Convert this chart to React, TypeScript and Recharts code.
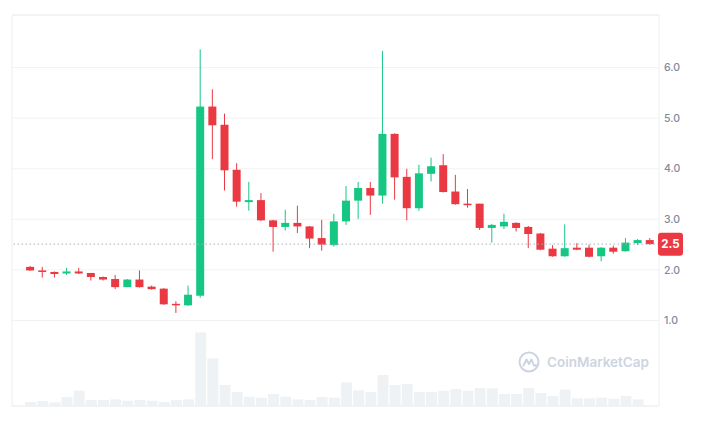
import {
  Bar,
  CartesianGrid,
  ComposedChart,
  ReferenceArea,
  ReferenceLine,
  XAxis,
  YAxis,
} from "recharts";

// weekly candles, first week starting Monday 2024-05-13
const firstWeek = "2024-05-13";

const opens = [
  2.06, 1.99, 1.96, 1.93, 1.97, 1.94, 1.86, 1.82, 1.66, 1.81, 1.67, 1.63, 1.33,
  1.3, 1.49, 5.23, 4.87, 3.98, 3.34, 3.38, 2.98, 2.85, 2.93, 2.86, 2.63, 2.49,
  2.96, 3.37, 3.62, 3.47, 4.69, 3.84, 3.22, 3.9, 4.07, 3.55, 3.31, 3.31, 2.83,
  2.86, 2.93, 2.85, 2.72, 2.42, 2.27, 2.44, 2.44, 2.27, 2.44, 2.37, 2.53, 2.59,
];
const highs = [
  2.08, 2.06, 1.97, 2.04, 2.04, 1.94, 1.87, 1.9, 1.82, 1.99, 1.69, 1.64, 1.38,
  1.69, 6.36, 5.57, 5.09, 4.11, 3.74, 3.52, 2.99, 3.19, 3.27, 2.87, 2.99, 3.11,
  3.66, 3.74, 3.74, 6.33, 4.7, 4.0, 4.08, 4.22, 4.29, 3.88, 3.6, 3.31, 2.91,
  3.11, 2.94, 2.87, 2.73, 2.49, 2.9, 2.53, 2.5, 2.45, 2.48, 2.63, 2.61, 2.63,
];
const lows = [
  1.98, 1.85, 1.85, 1.9, 1.92, 1.79, 1.79, 1.62, 1.66, 1.65, 1.61, 1.31, 1.15,
  1.29, 1.45, 4.19, 3.57, 3.25, 3.17, 2.97, 2.36, 2.78, 2.73, 2.43, 2.38, 2.46,
  2.89, 3.01, 3.09, 3.31, 3.39, 2.98, 3.17, 3.75, 3.53, 3.29, 3.23, 2.79, 2.54,
  2.81, 2.76, 2.43, 2.39, 2.26, 2.26, 2.39, 2.25, 2.17, 2.32, 2.36, 2.49, 2.5,
];
const closes = [
  1.99, 1.96, 1.92, 1.97, 1.93, 1.86, 1.81, 1.66, 1.81, 1.66, 1.62, 1.32, 1.3,
  1.51, 5.23, 4.86, 3.97, 3.35, 3.38, 2.98, 2.85, 2.93, 2.86, 2.62, 2.5, 2.96,
  3.37, 3.62, 3.47, 4.69, 3.83, 3.22, 3.91, 4.05, 3.54, 3.3, 3.29, 2.83, 2.89,
  2.95, 2.83, 2.71, 2.4, 2.27, 2.43, 2.4, 2.26, 2.44, 2.36, 2.54, 2.59, 2.51,
];
// weekly volume, relative units
const volumes = [
  4, 5, 3.7, 9, 15.3, 6, 6, 6.7, 5.3, 6, 5.3, 4, 6, 6.7, 73.7, 47.7, 21, 14,
  9.3, 8.3, 12, 9.3, 6.7, 6, 9, 8.3, 23.7, 15.7, 14, 31, 21, 22, 14, 14, 15.3,
  17, 15.3, 18, 17.7, 12, 12, 18, 13, 10, 16.3, 7.7, 7.7, 8.3, 7.3, 10, 6.7, 0,
];

const monthStarts = ["2024-07-01", "2024-09-01", "2024-11-01", "2025-01-01", "2025-03-01", "2025-05-01"];
const monthLabels = ["Jul '24", "Sep '24", "Nov '24", "Jan '25", "Mar '25", "May '25"];
const priceTicks = [1, 2, 3, 4, 5, 6];

const GREEN = "#16c784";
const RED = "#ea3943";
const GRID = "#f1f2f4";
const LABEL = "#808a9d";

const WEEK = 7 * 86400000;
const t0 = Date.parse(firstWeek);

const data = opens.map((open, i) => ({
  i,
  date: new Date(t0 + i * WEEK).toISOString().slice(0, 10),
  open,
  high: highs[i],
  low: lows[i],
  close: closes[i],
  volume: volumes[i],
}));

const monthTicks = monthStarts.map((s) => (Date.parse(s) - t0) / WEEK);
const lastClose = closes[closes.length - 1];

const xDomain = [-1.5, 51.75];
const priceDomain = [-0.69, 7.04];
const bandPadding = { left: 12.1, right: 3.1 };

const Candle = (props: any) => {
  const { x, y, width, height, payload } = props;
  if (x == null || y == null) return null;
  const { open, close, high, low } = payload;
  const color = close >= open ? GREEN : RED;
  const k = high - low > 0 ? height / (high - low) : 0;
  const top = y + (high - Math.max(open, close)) * k;
  const h = Math.max(Math.abs(close - open) * k, 1.5);
  const cx = x + width / 2;
  return (
    <g>
      <line x1={cx} x2={cx} y1={y} y2={y + height} stroke={color} strokeWidth={1} />
      <rect x={x} y={top} width={width} height={h} fill={color} />
    </g>
  );
};

const PriceTag = (props: any) => {
  const { viewBox } = props;
  if (!viewBox) return null;
  const x = viewBox.x + viewBox.width;
  const y = viewBox.y;
  return (
    <g>
      <rect x={x - 1} y={y - 11.5} width={25} height={23} rx={3} fill={RED} />
      <text x={x + 11.5} y={y} dy="0.36em" textAnchor="middle" fill="#fff" fontSize={11.5} fontWeight={700}>
        {lastClose.toFixed(1)}
      </text>
    </g>
  );
};

export default function App() {
  return (
    <div
      style={{
        position: "absolute",
        left: 0,
        top: 0,
        width: 710,
        height: 427,
        background: "#fff",
        fontFamily: "Inter, sans-serif",
      }}
    >
      <ComposedChart width={710} height={427} data={data} margin={{ top: 15, right: 0, bottom: 0, left: 12 }}>
        <XAxis xAxisId="c" dataKey="date" type="category" hide padding={bandPadding} />
        <XAxis xAxisId="v" dataKey="date" type="category" hide padding={bandPadding} />
        <XAxis
          xAxisId="t"
          dataKey="i"
          type="number"
          domain={xDomain}
          allowDataOverflow
          ticks={monthTicks}
          interval={0}
          height={21}
          axisLine={false}
          tickLine={false}
          tickSize={6}
          tickMargin={3}
          tick={{ fill: LABEL, fontSize: 10.5, fontWeight: 500 }}
          tickFormatter={(v: number) => monthLabels[monthTicks.findIndex((m) => Math.abs(m - v) < 1e-6)] ?? ""}
        />
        <YAxis
          yAxisId="p"
          orientation="right"
          type="number"
          domain={priceDomain}
          allowDataOverflow
          ticks={priceTicks}
          width={51}
          axisLine={false}
          tickLine={false}
          tickSize={0}
          tickMargin={5}
          tick={{ fill: LABEL, fontSize: 10.5, fontWeight: 500 }}
          tickFormatter={(v: number) => v.toFixed(1)}
        />
        <YAxis yAxisId="v" type="number" domain={[0, 391]} hide />
        <CartesianGrid xAxisId="t" yAxisId="p" vertical={false} stroke={GRID} />
        <ReferenceArea
          xAxisId="t"
          yAxisId="p"
          x1={xDomain[0]}
          x2={xDomain[1]}
          y1={priceDomain[0]}
          y2={priceDomain[1]}
          fill="none"
          stroke="#eceef1"
        />
        <Bar xAxisId="v" yAxisId="v" dataKey="volume" fill="#eff2f5" barSize={11} isAnimationActive={false} />
        <ReferenceLine
          xAxisId="t"
          yAxisId="p"
          y={lastClose}
          stroke="#a8afbd"
          strokeDasharray="1.5 2.5"
          label={<PriceTag />}
        />
        <Bar
          xAxisId="c"
          yAxisId="p"
          dataKey={(d: any) => [d.low, d.high]}
          shape={<Candle />}
          barSize={8}
          isAnimationActive={false}
        />
      </ComposedChart>
      <div
        style={{
          position: "absolute",
          left: 518,
          top: 351,
          display: "flex",
          alignItems: "center",
          gap: 7,
          color: "#cdd4e1",
          fontWeight: 600,
          fontSize: 13.5,
        }}
      >
        <svg width={22} height={22} viewBox="0 0 22 22">
          <circle cx={11} cy={11} r={9.5} fill="none" stroke="currentColor" strokeWidth={2} />
          <path
            d="M5.5 14.5 L8.5 8.5 L11 13 L13.5 8.5 L15.5 13.5 Q16.5 15.5 18 14"
            fill="none"
            stroke="currentColor"
            strokeWidth={2}
            strokeLinejoin="round"
            strokeLinecap="round"
          />
        </svg>
        <span>CoinMarketCap</span>
      </div>
    </div>
  );
}
